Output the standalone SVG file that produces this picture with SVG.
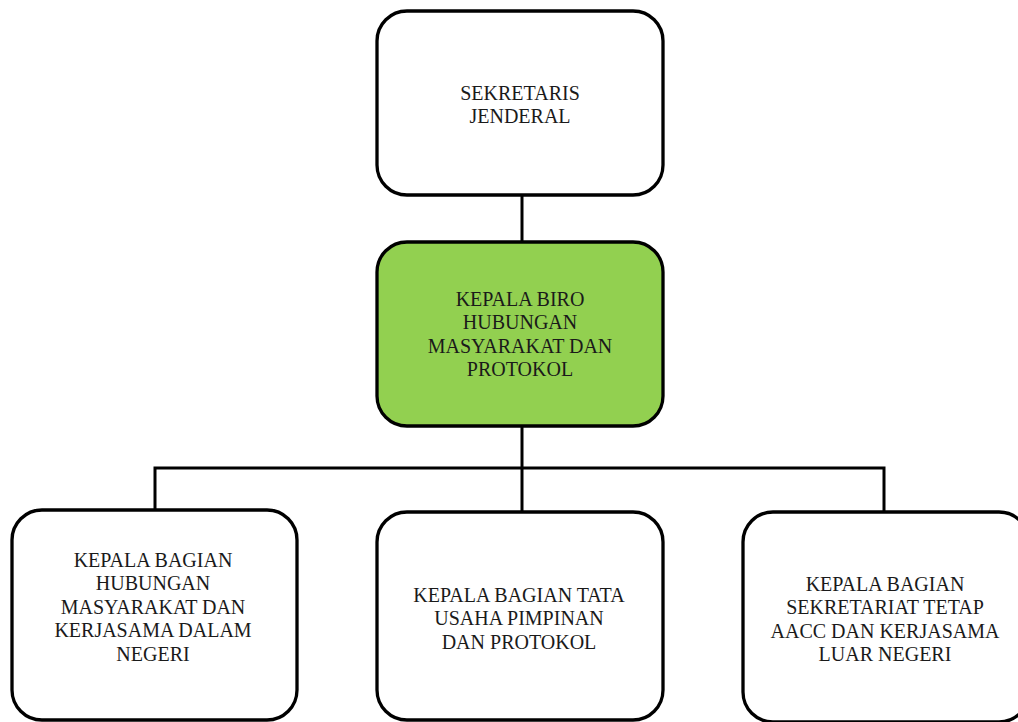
<svg xmlns="http://www.w3.org/2000/svg" width="1018" height="722" viewBox="0 0 1018 722">
<style>
.box{fill:#ffffff;stroke:#000000;stroke-width:3.3}
.green{fill:#92D050}
.lbl{font-family:"Liberation Serif","Times New Roman",serif;font-size:20px;fill:#1a1a1a;text-anchor:middle}
.conn{stroke:#000000;stroke-width:3;fill:none}
</style>
<rect width="1018" height="722" fill="#ffffff"/>
<g id="connectors">
<line class="conn" x1="522" y1="195" x2="522" y2="242"/>
<line class="conn" x1="522" y1="426" x2="522" y2="512"/>
<polyline class="conn" points="155,510 155,468 884,468 884,512"/>
</g>
<g id="sekretaris-jenderal">
<rect class="box" x="377" y="11" width="286" height="184" rx="30" ry="30"/>
<text class="lbl" x="520" y="99.5">SEKRETARIS</text>
<text class="lbl" x="520" y="123">JENDERAL</text>
</g>
<g id="kepala-biro">
<rect class="box green" x="377" y="242" width="286" height="184" rx="30" ry="30"/>
<text class="lbl" x="520" y="306">KEPALA BIRO</text>
<text class="lbl" x="520" y="329">HUBUNGAN</text>
<text class="lbl" x="520" y="352.5">MASYARAKAT DAN</text>
<text class="lbl" x="520" y="376">PROTOKOL</text>
</g>
<g id="bagian-humas">
<rect class="box" x="12" y="510" width="285" height="210" rx="30" ry="30"/>
<text class="lbl" x="153" y="566.5">KEPALA BAGIAN</text>
<text class="lbl" x="153" y="590">HUBUNGAN</text>
<text class="lbl" x="153" y="613.5">MASYARAKAT DAN</text>
<text class="lbl" x="153" y="637">KERJASAMA DALAM</text>
<text class="lbl" x="153" y="660.5">NEGERI</text>
</g>
<g id="bagian-tata-usaha">
<rect class="box" x="377" y="512" width="286" height="208" rx="30" ry="30"/>
<text class="lbl" x="519" y="601.5">KEPALA BAGIAN TATA</text>
<text class="lbl" x="519" y="625">USAHA PIMPINAN</text>
<text class="lbl" x="519" y="648.5">DAN PROTOKOL</text>
</g>
<g id="bagian-sekretariat">
<rect class="box" x="743" y="512" width="286" height="210" rx="30" ry="30"/>
<text class="lbl" x="885" y="590.5">KEPALA BAGIAN</text>
<text class="lbl" x="885" y="614">SEKRETARIAT TETAP</text>
<text class="lbl" x="885" y="637.5">AACC DAN KERJASAMA</text>
<text class="lbl" x="885" y="661">LUAR NEGERI</text>
</g>
</svg>
